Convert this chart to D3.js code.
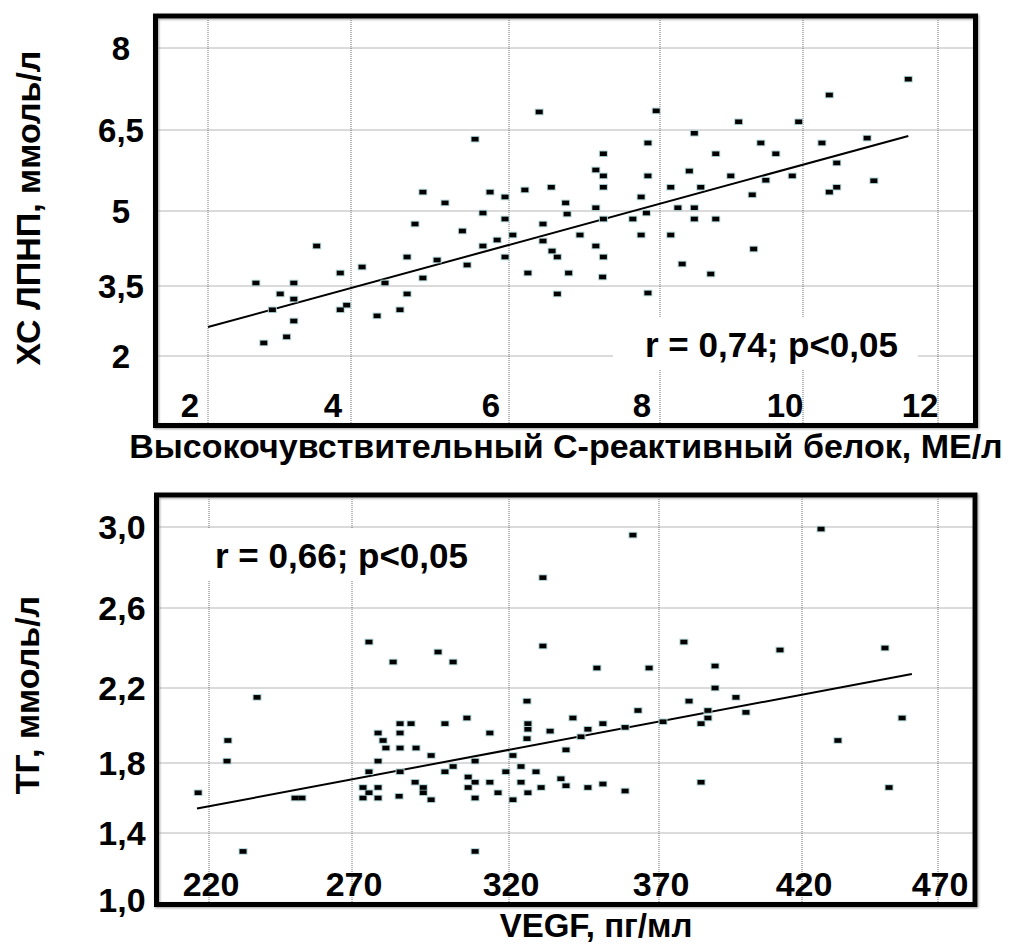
<!DOCTYPE html>
<html>
<head>
<meta charset="utf-8">
<script src="https://cdn.jsdelivr.net/npm/d3@7"></script>
<style>
  html, body { margin: 0; padding: 0; background: #fff; }
  svg { display: block; }
  text { font-family: "Liberation Sans", Arial, sans-serif; font-weight: bold; fill: #000; }
</style>
</head>
<body>
<svg id="chart" width="1016" height="944"></svg>
<script>
// ---- Panel 1: hs-CRP vs LDL cholesterol ----
const crpTicks = [2, 4, 6, 8, 10, 12];
const crpTickLabels = ["2", "4", "6", "8", "10", "12"];
const ldlTicks = [2, 3.5, 5, 6.5, 8];
const ldlTickLabels = ["2", "3,5", "5", "6,5", "8"];

const crpX = [
  6.40,5.57,4.91,5.76,5.95,6.21,6.56,5.19,6.75,5.67,
  5.95,6.45,4.81,5.41,6.77,7.15,7.15,11.56,10.39,7.95,
  9.10,9.94,8.48,10.95,7.84,9.41,10.28,7.25,8.78,9.62,
  10.50,7.25,7.84,8.41,8.99,9.85,9.48,11.05,7.25,8.15,
  8.57,10.50,10.39,7.75,9.29,8.25,8.48,7.82,7.25,7.64,
  8.48,8.78,6.94,7.75,8.15,7.15,6.57,6.64,7.25,9.31,
  8.31,6.79,7.24,8.71,6.64,7.84,6.05,5.85,6.45,5.67,
  5.95,5.09,4.71,5.47,3.52,4.14,3.85,4.91,6.25,2.67,
  3.20,4.43,3.01,3.20,4.71,2.90,3.85,3.94,4.33,4.62,
  3.20,3.10,2.78
];
const ldlY = [
  6.83,6.33,5.35,5.35,5.26,5.39,5.44,5.15,5.15,4.96,
  4.84,4.74,4.74,4.60,4.94,5.76,5.06,7.43,7.14,6.85,
  6.65,6.65,6.44,6.35,6.26,6.26,6.26,6.06,6.06,6.06,
  5.89,5.65,5.65,5.74,5.65,5.65,5.57,5.56,5.44,5.44,
  5.44,5.44,5.35,5.26,5.30,5.06,5.06,4.96,4.84,4.84,
  4.84,4.84,4.52,4.52,4.52,4.30,4.20,4.08,4.08,4.24,
  3.94,3.76,3.68,3.74,3.33,3.35,4.52,4.42,4.40,4.30,
  4.08,4.02,4.08,3.92,4.30,3.88,3.76,3.66,3.76,3.56,
  3.56,3.56,3.33,3.22,3.33,2.99,2.99,3.09,2.86,2.99,
  2.75,2.41,2.28
];
const crpFitX = [2, 11.56];
const crpFitY = [2.62, 6.39];
const crpStat = "r = 0,74; p<0,05";

// ---- Panel 2: VEGF vs triglycerides ----
const vegfTicks = [220, 270, 320, 370, 420, 470];
const vegfTickLabels = ["220", "270", "320", "370", "420", "470"];
const tgTicks = [1.0, 1.4, 1.8, 2.2, 2.6, 3.0];
const tgTickLabels = ["1,0", "1,4", "1,8", "2,2", "2,6", "3,0"];

const vegfX = [
  216.2,226.6,226.3,231.9,236.8,250.1,252.5,275.4,283.1,297.4,
  302.2,278.3,279.9,280.8,285.3,288.8,285.3,285.3,290.4,278.3,
  275.4,285.3,295.2,299.6,306.6,313.9,299.6,302.2,309.2,307.0,
  273.5,278.3,275.4,273.5,278.3,285.0,290.1,292.7,292.7,295.2,
  307.0,309.2,313.9,309.2,316.5,309.2,361.3,427.0,331.3,331.3,
  378.7,412.3,450.5,349.3,366.7,389.6,389.6,396.9,326.0,380.5,
  363.0,387.1,400.4,341.3,456.8,387.1,326.3,351.3,371.4,384.7,
  326.3,346.3,358.7,333.7,344.0,326.0,433.2,339.0,321.3,324.0,
  319.0,329.0,337.3,324.0,339.0,330.7,346.3,351.3,384.7,452.0,
  326.3,358.7,321.3
];
const tgY = [
  1.63,1.92,1.81,1.29,2.15,1.60,1.60,2.43,2.33,2.38,
  2.33,1.96,1.92,1.88,2.01,2.01,1.96,1.88,1.88,1.81,
  1.75,1.75,1.84,2.01,2.04,1.96,1.75,1.78,1.81,1.72,
  1.66,1.66,1.63,1.60,1.60,1.61,1.69,1.66,1.63,1.59,
  1.66,1.69,1.69,1.60,1.63,1.29,2.96,2.99,2.75,2.41,
  2.43,2.39,2.40,2.30,2.30,2.31,2.20,2.15,2.13,2.13,
  2.08,2.08,2.07,2.04,2.04,2.04,2.01,2.01,2.02,2.01,
  1.98,1.98,1.99,1.97,1.94,1.93,1.92,1.87,1.84,1.78,
  1.75,1.75,1.71,1.69,1.67,1.66,1.66,1.68,1.69,1.66,
  1.63,1.64,1.59
];
const vegfFitX = [215.8, 460.4];
const tgFitY = [1.54, 2.27];
const vegfStat = "r = 0,66; p<0,05";

const svg = d3.select("#chart");

const defs = svg.append("defs");
defs.append("filter").attr("id", "frameShadow")
  .attr("x", "-5%").attr("y", "-5%").attr("width", "110%").attr("height", "110%")
  .append("feDropShadow")
  .attr("dx", 1).attr("dy", 1).attr("stdDeviation", 0.8)
  .attr("flood-color", "#777").attr("flood-opacity", 0.7);

function drawPanel(cfg) {
  const g = svg.append("g");
  const { x, y, frame } = cfg;

  // dotted grid
  const grid = g.append("g")
    .attr("stroke", "#6e6e6e").attr("stroke-width", 1)
    .attr("stroke-dasharray", "1,1").attr("fill", "none");
  grid.selectAll("line.v").data(cfg.xTicks).join("line")
    .attr("class", "v")
    .attr("x1", d => x(d)).attr("x2", d => x(d))
    .attr("y1", frame.top).attr("y2", frame.bottom);
  grid.selectAll("line.h").data(cfg.yGrid).join("line")
    .attr("class", "h")
    .attr("y1", d => y(d)).attr("y2", d => y(d))
    .attr("x1", frame.left).attr("x2", frame.right);

  // correlation note on a white patch
  const note = g.append("g");
  const noteBg = note.append("rect").attr("fill", "#fff");
  const noteText = note.append("text")
    .attr("x", cfg.note.x).attr("y", cfg.note.y)
    .attr("font-size", 35)
    .text(cfg.note.text);
  const bb = noteText.node().getBBox();
  noteBg.attr("x", bb.x - cfg.note.padL).attr("y", bb.y - 7)
    .attr("width", bb.width + cfg.note.padL + cfg.note.padR)
    .attr("height", bb.height + 12);

  // regression line
  g.append("line")
    .attr("x1", x(cfg.fitX[0])).attr("y1", y(cfg.fitY[0]))
    .attr("x2", x(cfg.fitX[1])).attr("y2", y(cfg.fitY[1]))
    .attr("stroke", "#000").attr("stroke-width", 2);

  // scatter markers
  const pts = cfg.xs.map((v, i) => [v, cfg.ys[i]]);
  const mk = g.append("g");
  mk.selectAll("rect.halo").data(pts).join("rect")
    .attr("class", "halo")
    .attr("x", d => x(d[0]) - 4.5).attr("y", d => y(d[1]) - 3.3)
    .attr("width", 9).attr("height", 6.6)
    .attr("fill", "#b4d4d6");
  mk.selectAll("rect.dot").data(pts).join("rect")
    .attr("class", "dot")
    .attr("x", d => x(d[0]) - 3.5).attr("y", d => y(d[1]) - 2.3)
    .attr("width", 7).attr("height", 4.6)
    .attr("fill", "#000");

  // frame
  g.append("rect")
    .attr("x", frame.left).attr("y", frame.top)
    .attr("width", frame.right - frame.left)
    .attr("height", frame.bottom - frame.top)
    .attr("fill", "none").attr("stroke", "#000").attr("stroke-width", 5)
    .attr("filter", "url(#frameShadow)");

  // tick labels
  g.append("g").selectAll("text").data(cfg.xTicks).join("text")
    .attr("x", d => x(d) + cfg.xLabelDx)
    .attr("y", cfg.xLabelY)
    .attr("text-anchor", "middle")
    .attr("font-size", cfg.tickSize)
    .text((d, i) => cfg.xLabels[i]);
  g.append("g").selectAll("text").data(cfg.yTicks).join("text")
    .attr("x", cfg.yLabelX)
    .attr("y", d => y(d))
    .attr("dy", "0.36em")
    .attr("text-anchor", "middle")
    .attr("font-size", cfg.tickSize)
    .text((d, i) => cfg.yLabels[i]);

  // axis titles
  g.append("text")
    .attr("transform", `translate(${cfg.yTitle.x},${cfg.yTitle.y}) rotate(-90)`)
    .attr("text-anchor", "middle").attr("dy", "0.36em")
    .attr("font-size", 34)
    .text(cfg.yTitle.text);
  g.append("text")
    .attr("x", cfg.xTitle.x).attr("y", cfg.xTitle.y)
    .attr("text-anchor", "middle")
    .attr("font-size", cfg.xTitle.size)
    .text(cfg.xTitle.text);
}

// axis stops are unevenly spaced in this layout, so each scale is piecewise
drawPanel({
  x: d3.scaleLinear().domain(crpTicks).range([208, 351, 509, 660, 803, 938]),
  y: d3.scaleLinear().domain(ldlTicks).range([356, 286, 211, 130, 48]),
  frame: { left: 155.5, right: 975.5, top: 16, bottom: 425.5 },
  xTicks: crpTicks, xLabels: crpTickLabels, xLabelDx: -18, xLabelY: 417,
  yTicks: ldlTicks, yGrid: ldlTicks, yLabels: ldlTickLabels, yLabelX: 121,
  tickSize: 33,
  xs: crpX, ys: ldlY, fitX: crpFitX, fitY: crpFitY,
  note: { text: crpStat, x: 645, y: 357, padL: 32, padR: 20 },
  yTitle: { text: "ХС ЛПНП, ммоль/л", x: 28, y: 208 },
  xTitle: { text: "Высокочувствительный С-реактивный белок, МЕ/л", x: 566, y: 458, size: 34 }
});

drawPanel({
  x: d3.scaleLinear().domain(vegfTicks).range([209, 352, 509, 659, 802, 938]),
  y: d3.scaleLinear().domain(tgTicks).range([900, 833, 763, 688, 608, 527]),
  frame: { left: 156.5, right: 975, top: 495, bottom: 904.5 },
  xTicks: vegfTicks, xLabels: vegfTickLabels, xLabelDx: 2, xLabelY: 896,
  yTicks: tgTicks, yGrid: tgTicks.slice(1), yLabels: tgTickLabels, yLabelX: 122,
  tickSize: 34,
  xs: vegfX, ys: tgY, fitX: vegfFitX, fitY: tgFitY,
  note: { text: vegfStat, x: 215, y: 568, padL: 14, padR: 14 },
  yTitle: { text: "ТГ, ммоль/л", x: 27, y: 695 },
  xTitle: { text: "VEGF, пг/мл", x: 596, y: 937, size: 33 }
});
</script>
</body>
</html>
